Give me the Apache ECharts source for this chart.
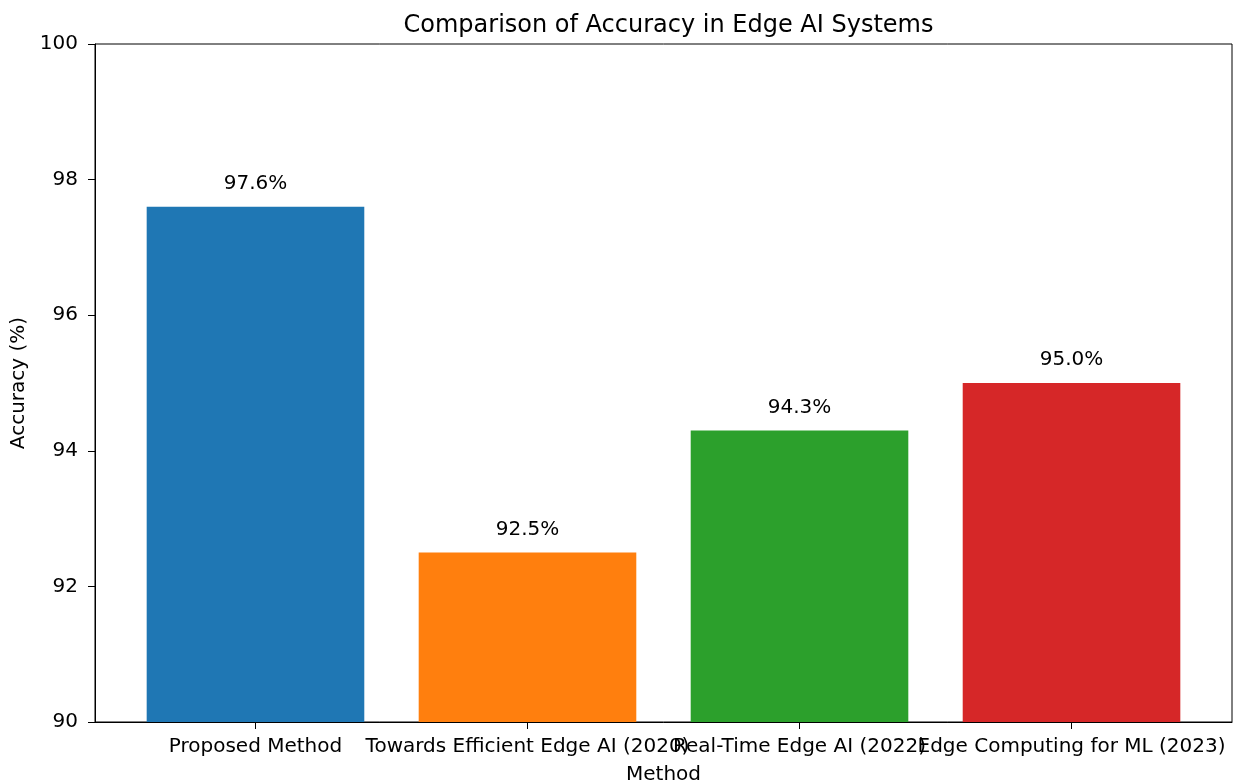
<!DOCTYPE html>
<html>
<head>
<meta charset="utf-8">
<script src="https://cdn.jsdelivr.net/npm/echarts@6/dist/echarts.min.js"></script>
<style>
  html, body { margin: 0; padding: 0; background: #fff; overflow: hidden; }
  #chart { width: 1234px; height: 783px; }
</style>
</head>
<body>
<div id="chart"></div>
<script>
// Accuracy of each method, one bar per method
const methods = [
  'Proposed Method',
  'Towards Efficient Edge AI (2020)',
  'Real-Time Edge AI (2022)',
  'Edge Computing for ML (2023)'
];
const accuracy = [97.6, 92.5, 94.3, 95.0];
const barColors = ['#1f77b4', '#ff7f0e', '#2ca02c', '#d62728'];
const yTicks = [90, 92, 94, 96, 98, 100];

const FONT = 'DejaVu Sans';
const gridLeft = 95, gridRight = 2;
const xMin = -0.59, xMax = 3.59;
const plotWidth = 1234 - gridLeft - gridRight;
const barPx = 0.8 * plotWidth / (xMax - xMin);

// Long method names run into each other; split them over two stacked
// x axes (even / odd positions) so none of them gets dropped.
const evenPos = [0, 2], oddPos = [1, 3];
const labelStyle = {
  hideOverlap: false,
  showMinLabel: true,
  showMaxLabel: true,
  formatter: v => methods[Math.round(v)],
  fontFamily: FONT, fontSize: 20, color: '#000', margin: 15
};

const chart = echarts.init(document.getElementById('chart'), null, { renderer: 'canvas' });
chart.setOption({
  animation: false,
  backgroundColor: '#fff',
  textStyle: { fontFamily: FONT },
  title: {
    text: 'Comparison of Accuracy in Edge AI Systems',
    left: gridLeft + plotWidth / 2,
    textAlign: 'center',
    top: 9,
    textStyle: { fontFamily: FONT, fontSize: 24, fontWeight: 'normal', color: '#000' }
  },
  grid: {
    left: gridLeft, right: gridRight, top: 44, bottom: 61,
    outerBoundsMode: 'none',
    containLabel: false,
    show: true, borderColor: '#000', borderWidth: 1, backgroundColor: 'transparent'
  },
  xAxis: [{
    type: 'value',
    position: 'bottom',
    min: xMin, max: xMax,
    name: 'Method',
    nameLocation: 'middle',
    nameGap: 43,
    nameTextStyle: { fontFamily: FONT, fontSize: 20, color: '#000' },
    splitLine: { show: false },
    axisLine: { show: true, onZero: false, lineStyle: { color: '#000', width: 1 } },
    axisTick: { show: true, customValues: [0, 1, 2, 3], length: 7, lineStyle: { color: '#000' } },
    axisLabel: Object.assign({ customValues: evenPos }, labelStyle)
  }, {
    type: 'value',
    position: 'bottom',
    offset: 0,
    min: xMin, max: xMax,
    splitLine: { show: false },
    axisLine: { show: false, onZero: false },
    axisTick: { show: false },
    axisLabel: Object.assign({ customValues: oddPos }, labelStyle)
  }],
  yAxis: {
    type: 'value',
    min: yTicks[0], max: yTicks[yTicks.length - 1], interval: 2,
    name: 'Accuracy (%)',
    nameLocation: 'middle',
    nameGap: 64,
    nameTextStyle: { fontFamily: FONT, fontSize: 20, color: '#000' },
    splitLine: { show: false },
    axisLine: { show: true, onZero: false, lineStyle: { color: '#000', width: 1 } },
    axisTick: { show: true, length: 7, lineStyle: { color: '#000' } },
    axisLabel: { fontFamily: FONT, fontSize: 20, color: '#000', margin: 17 }
  },
  series: [{
    type: 'bar',
    xAxisIndex: 0,
    barWidth: barPx,
    data: accuracy.map((v, i) => ({
      value: [i, v],
      itemStyle: { color: barColors[i] }
    })),
    label: {
      show: true,
      position: 'top',
      distance: 13,
      formatter: p => p.value[1].toFixed(1) + '%',
      fontFamily: FONT, fontSize: 20, color: '#000'
    }
  }]
});
</script>
</body>
</html>
